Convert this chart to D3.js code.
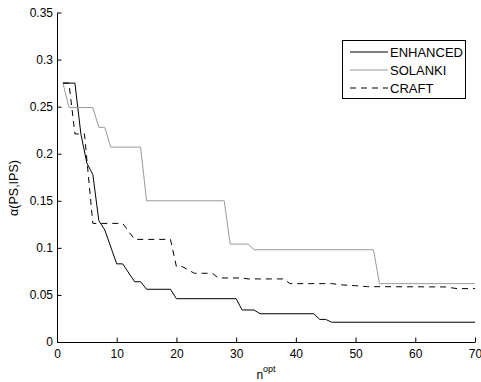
<!DOCTYPE html>
<html>
<head>
<meta charset="utf-8">
<script src="https://cdn.jsdelivr.net/npm/d3@7"></script>
<style>
  html, body { margin: 0; padding: 0; background: #fff; }
  svg { display: block; }
  text { font-family: "Liberation Sans", Arial, Helvetica, sans-serif; fill: #000; }
</style>
</head>
<body>
<svg id="chart" width="481" height="382"></svg>
<script>
// Series vertices: number of optimised nodes vs. alpha(PS,IPS)
const enhancedN = [1, 3, 4, 5, 6, 7, 8, 10, 11, 13, 14, 15, 19, 20, 30, 31, 33, 34, 43, 44, 45, 46, 70];
const enhancedA = [0.275, 0.275, 0.221, 0.19, 0.178, 0.129, 0.119, 0.083, 0.083, 0.064, 0.064, 0.056, 0.056, 0.046, 0.046, 0.034, 0.034, 0.030, 0.030, 0.024, 0.024, 0.021, 0.021];

const solankiN = [1, 2, 6, 7, 8, 9, 14, 15, 28, 29, 32, 33, 53, 54, 70];
const solankiA = [0.275, 0.249, 0.249, 0.228, 0.228, 0.207, 0.207, 0.150, 0.150, 0.104, 0.104, 0.098, 0.098, 0.062, 0.062];

const craftN = [1, 2, 3, 4.6, 6, 11, 13, 19, 20, 21, 23, 26, 27, 31, 32, 38, 39, 46, 48, 50, 52, 65, 67, 70];
const craftA = [0.275, 0.275, 0.221, 0.221, 0.126, 0.126, 0.109, 0.109, 0.080, 0.080, 0.073, 0.073, 0.068, 0.068, 0.067, 0.067, 0.062, 0.062, 0.0605, 0.0598, 0.0588, 0.0585, 0.0567, 0.0567];

const xTicks = [0, 10, 20, 30, 40, 50, 60, 70];
const yTicks = [0, 0.05, 0.1, 0.15, 0.2, 0.25, 0.3, 0.35];
const yTickLabels = ["0", "0.05", "0.1", "0.15", "0.2", "0.25", "0.3", "0.35"];

const seriesNames = ["ENHANCED", "SOLANKI", "CRAFT"];

const series = [
  { name: seriesNames[0], n: enhancedN, a: enhancedA, color: "#000", dash: null },
  { name: seriesNames[1], n: solankiN, a: solankiA, color: "#9a9a9a", dash: null },
  { name: seriesNames[2], n: craftN, a: craftA, color: "#000", dash: "6,5" }
];

const svg = d3.select("#chart");
const plot = { left: 57, right: 475, top: 12.5, bottom: 342 };

const x = d3.scaleLinear().domain([0, 70]).range([plot.left, plot.right]);
const y = d3.scaleLinear().domain([0, 0.35]).range([plot.bottom, plot.top]);

// Axes with inward ticks
const xAxis = d3.axisBottom(x).tickValues(xTicks).tickSizeInner(-4.5).tickSizeOuter(0).tickPadding(7)
  .tickFormat(d3.format("d"));
const yAxis = d3.axisLeft(y).tickValues(yTicks).tickSizeInner(-4.5).tickSizeOuter(0).tickPadding(4)
  .tickFormat((d, i) => yTickLabels[i]);

const gx = svg.append("g").attr("transform", `translate(0,${plot.bottom})`).call(xAxis);
const gy = svg.append("g").attr("transform", `translate(${plot.left},0)`).call(yAxis);

[gx, gy].forEach(g => {
  g.selectAll("path.domain").attr("stroke", "#000").attr("stroke-width", 1);
  g.selectAll(".tick line").attr("stroke", "#000").attr("stroke-width", 1);
  g.selectAll(".tick text").attr("font-size", 12).style("font-family", '"Liberation Sans", Arial, sans-serif');
});

// Lines
const line = d3.line().x(d => x(d[0])).y(d => y(d[1]));
series.forEach(s => {
  const pts = s.n.map((v, i) => [v, s.a[i]]);
  svg.append("path")
    .datum(pts)
    .attr("d", line)
    .attr("fill", "none")
    .attr("stroke", s.color)
    .attr("stroke-width", 1)
    .attr("stroke-dasharray", s.dash);
});

// Legend
const legend = svg.append("g");
legend.append("rect")
  .attr("x", 342.5).attr("y", 40.5).attr("width", 123).attr("height", 58)
  .attr("fill", "#fff").attr("stroke", "#000").attr("stroke-width", 1);
series.forEach((s, i) => {
  const ly = 52 + i * 18;
  legend.append("line")
    .attr("x1", 350).attr("x2", 388).attr("y1", ly).attr("y2", ly)
    .attr("stroke", s.color).attr("stroke-width", 1)
    .attr("stroke-dasharray", s.dash);
  legend.append("text")
    .attr("x", 390).attr("y", ly).attr("dy", "0.36em")
    .attr("font-size", 13)
    .text(s.name);
});

// Axis titles
const xl = svg.append("text")
  .attr("x", x(35)).attr("y", 379)
  .attr("text-anchor", "middle")
  .attr("font-size", 12);
xl.append("tspan").text("n");
xl.append("tspan").attr("font-size", 9).attr("dy", -7).text("opt");

svg.append("text")
  .attr("transform", `translate(18,188) rotate(-90)`)
  .attr("text-anchor", "middle")
  .attr("font-size", 12.5)
  .text("α(PS,IPS)");
</script>
</body>
</html>
